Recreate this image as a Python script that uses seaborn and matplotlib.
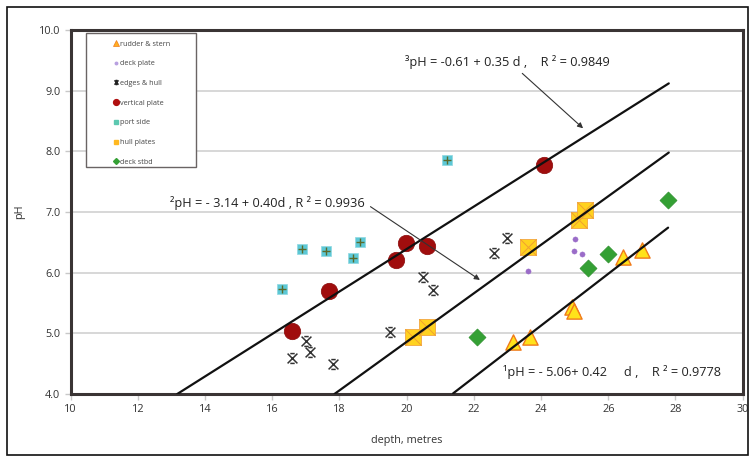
import numpy as np
import pandas as pd
import matplotlib
matplotlib.use("Agg")
import matplotlib.pyplot as plt
from matplotlib.path import Path
from matplotlib.lines import Line2D
from matplotlib.patches import Rectangle
import seaborn as sns

# data (depth in metres, pH)
rudder_d = [23.17, 23.67, 24.91, 24.98, 26.45, 26.99]
rudder_ph = [4.86, 4.94, 5.43, 5.37, 6.26, 6.37]
deckplate_d = [23.60, 24.99, 25.01, 25.21]
deckplate_ph = [6.03, 6.36, 6.55, 6.31]
edges_d = [16.60, 17.00, 17.12, 17.80, 19.50, 20.49, 20.79, 22.61, 22.99]
edges_ph = [4.59, 4.87, 4.69, 4.49, 5.03, 5.93, 5.71, 6.33, 6.57]
vert_d = [16.60, 17.69, 19.68, 19.99, 20.60, 24.10]
vert_ph = [5.04, 5.69, 6.21, 6.49, 6.44, 7.78]
port_d = [16.30, 16.89, 17.60, 18.39, 18.61, 21.21]
port_ph = [5.73, 6.39, 6.36, 6.24, 6.50, 7.85]
hull_d = [20.20, 20.60, 23.60, 25.14, 25.31]
hull_ph = [4.94, 5.10, 6.43, 6.87, 7.03]
stbd_d = [22.10, 25.40, 26.00, 27.79]
stbd_ph = [4.94, 6.08, 6.30, 7.20]

# fitted lines (as drawn): intercept, slope, depth range
fit_a = [-5.12, -3.14, -0.61]
fit_b = [0.427, 0.40, 0.35]
fit_start = [21.38, 17.85, 13.17]
fit_end = [27.78, 27.80, 27.80]

eq_labels = ["\u00b9pH = - 5.06+ 0.42     d ,    R \u00b2 = 0.9778",
             "\u00b2pH = - 3.14 + 0.40d , R \u00b2 = 0.9936",
             "\u00b3pH = -0.61 + 0.35 d ,    R \u00b2 = 0.9849"]

legend_labels = ["rudder & stern", "deck plate", "edges & hull", "vertical plate",
                 "port side", "hull plates", "deck stbd"]

xticks = list(range(10, 31, 2))
yticks = [4.0, 5.0, 6.0, 7.0, 8.0, 9.0, 10.0]

sns.set_style("white")
plt.rcParams["font.family"] = ["Open Sans", "DejaVu Sans"]

fig = plt.figure(figsize=(7.55, 4.59), dpi=100)
ax = fig.add_axes([0.0936, 0.1416, 0.8901, 0.7930])

for y in yticks[1:-1]:
    ax.axhline(y, color="#d4d4d4", lw=1.3, zorder=0)

# edges & hull marker: X with short top/bottom bars
hourglass = Path(
    [(-1, 1), (1, -1), (1, 1), (-1, -1), (-0.45, 1), (0.45, 1), (-0.45, -1), (0.45, -1)],
    [Path.MOVETO, Path.LINETO, Path.MOVETO, Path.LINETO,
     Path.MOVETO, Path.LINETO, Path.MOVETO, Path.LINETO])

port = pd.DataFrame({"d": port_d, "ph": port_ph})
sns.scatterplot(data=port, x="d", y="ph", marker="s", s=55, color="#5cc8d6",
                edgecolor="#8fd8e0", linewidth=0.5, ax=ax, zorder=3)
sns.scatterplot(data=port, x="d", y="ph", marker="+", s=35, color="#5a6a2a",
                linewidth=1.0, ax=ax, zorder=4)

vert = pd.DataFrame({"d": vert_d, "ph": vert_ph})
sns.scatterplot(data=vert, x="d", y="ph", marker="o", s=140, color="#a00d0d",
                edgecolor="#8a0a0a", linewidth=0.5, ax=ax, zorder=3)

edges = pd.DataFrame({"d": edges_d, "ph": edges_ph})
sns.scatterplot(data=edges, x="d", y="ph", marker=hourglass, s=50, color="#333333",
                edgecolor="#333333", linewidth=1.1, ax=ax, zorder=3)

hull = pd.DataFrame({"d": hull_d, "ph": hull_ph})
sns.scatterplot(data=hull, x="d", y="ph", marker="s", s=140, color="#ffd21f",
                edgecolor="#f2a640", linewidth=0.6, ax=ax, zorder=3)
sns.scatterplot(data=hull, x="d", y="ph", marker="x", s=140, color="#f0a030",
                linewidth=0.7, ax=ax, zorder=3)

deck = pd.DataFrame({"d": deckplate_d, "ph": deckplate_ph})
sns.scatterplot(data=deck, x="d", y="ph", marker="o", s=14, color="#9a6cc8",
                edgecolor="#9a6cc8", ax=ax, zorder=3)

stbd = pd.DataFrame({"d": stbd_d, "ph": stbd_ph})
sns.scatterplot(data=stbd, x="d", y="ph", marker="D", s=75, color="#34a034",
                edgecolor="#2d8f2d", linewidth=0.5, ax=ax, zorder=3)

rudder = pd.DataFrame({"d": rudder_d, "ph": rudder_ph})
sns.scatterplot(data=rudder, x="d", y="ph", marker="^", s=120, color="#ffe21a",
                edgecolor="#f07a1a", linewidth=1.0, ax=ax, zorder=3)

# regression lines
for a, b, x0, x1 in zip(fit_a, fit_b, fit_start, fit_end):
    xs = np.array([x0, x1])
    sns.lineplot(x=xs, y=a + b * xs, color="#111111", lw=1.6, ax=ax, zorder=5)

# equations and arrows
eq_size = 9.2
ax.text(22.86, 4.36, eq_labels[0], fontsize=eq_size, va="center", color="#222222", zorder=6)
ax.annotate(eq_labels[1], xy=(22.18, 5.88), xytext=(12.96, 7.15), fontsize=eq_size,
            va="center", color="#222222", zorder=6,
            arrowprops=dict(arrowstyle="-|>", color="#333333", lw=0.8,
                            shrinkA=2, shrinkB=0, relpos=(1.0, 0.5),
                            mutation_scale=8))
ax.annotate(eq_labels[2], xy=(25.25, 8.38), xytext=(19.95, 9.47), fontsize=eq_size,
            va="center", color="#222222", zorder=6,
            arrowprops=dict(arrowstyle="-|>", color="#333333", lw=0.8,
                            shrinkA=1, shrinkB=0, relpos=(0.55, 0.0),
                            mutation_scale=8))

ax.set_xlim(10, 30)
ax.set_ylim(4, 10)
ax.set_xticks(xticks)
ax.set_xticklabels([str(x) for x in xticks])
ax.set_yticks(yticks)
ax.set_yticklabels([f"{y:.1f}" for y in yticks])
ax.tick_params(axis="both", labelsize=7.8, labelcolor="#333333", color="#c8c8c8",
               length=4, width=1.0, direction="out", bottom=True, left=True)
ax.set_xlabel("depth, metres", fontsize=7.8, color="#333333", labelpad=14)
ax.set_ylabel("pH", fontsize=7.8, color="#333333", labelpad=10)
for sp in ax.spines.values():
    sp.set_color("#3a3434")
    sp.set_linewidth(2.2)

# legend: entries without frame, box drawn separately
handles = [
    Line2D([], [], ls="", marker="^", ms=4.2, mfc="#ffb020", mec="#f07a1a", mew=0.5),
    Line2D([], [], ls="", marker="o", ms=1.8, mfc="#b8a0e0", mec="#b8a0e0"),
    Line2D([], [], ls="", marker=hourglass, ms=3, mfc="#222222", mec="#222222", mew=1.0),
    Line2D([], [], ls="", marker="o", ms=4.2, mfc="#b01010", mec="#b01010"),
    Line2D([], [], ls="", marker="s", ms=3, mfc="#5cc8b0", mec="#5cc8b0"),
    Line2D([], [], ls="", marker="s", ms=3.5, mfc="#ffb820", mec="#ffb820"),
    Line2D([], [], ls="", marker="D", ms=3, mfc="#34a034", mec="#34a034"),
]
leg = ax.legend(handles, legend_labels, loc="upper left", bbox_to_anchor=(0.053, 0.992),
                fontsize=5.2, frameon=False, labelspacing=1.75,
                handlelength=0.6, handletextpad=0.2, borderpad=1.05,
                borderaxespad=0)
leg.set_zorder(7)
for t in leg.get_texts():
    t.set_color("#444444")
ax.add_patch(Rectangle((0.0228, 0.624), 0.164, 0.368, transform=ax.transAxes,
                       facecolor="white", edgecolor="#6a6464", lw=1.0, zorder=6))

fig.patches.append(Rectangle((0.0093, 0.0087), 0.981, 0.975, transform=fig.transFigure,
                             fill=False, edgecolor="#111111", lw=1.2))

fig.savefig("out.png", dpi=100)
